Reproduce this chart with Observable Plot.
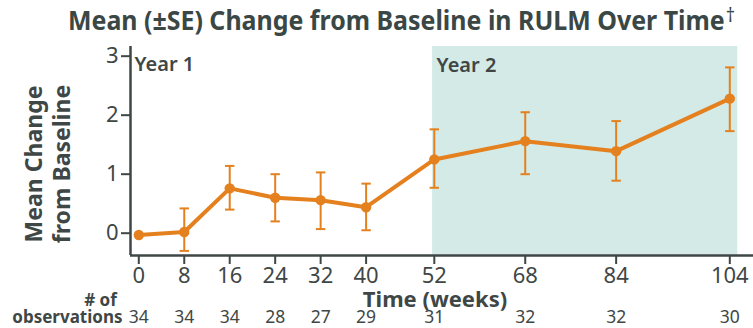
<!DOCTYPE html>
<html>
<head>
<meta charset="utf-8">
<script src="https://cdn.jsdelivr.net/npm/d3@7"></script>
<script src="https://cdn.jsdelivr.net/npm/@observablehq/plot@0.6"></script>
<style>
  html, body { margin: 0; padding: 0; background: #ffffff; }
  #wrap { width: 753px; height: 328px; position: relative; overflow: hidden; font-family: "Noto Sans", sans-serif; }
  #title { height: 44px; box-sizing: border-box; padding-top: 7px; padding-left: 68px; font-size: 26px; line-height: 1; font-weight: 700; color: #3b4745; white-space: nowrap; }
  #tinner { display: inline-block; transform-origin: 0 0; }
  #title sup { font-size: 19px; font-weight: 400; vertical-align: 0; position: relative; top: -8px; margin-left: 1px; }
</style>
</head>
<body>
<div id="wrap">
  <div id="title"><span id="tinner"><span id="ttext">Mean (±SE) Change from Baseline in RULM Over Time</span><sup>†</sup></span></div>
  <div id="chart"></div>
</div>
<script>
// ---- data ----
const weeks  = [0, 8, 16, 24, 32, 40, 52, 68, 84, 104];
const means  = [-0.03, 0.02, 0.76, 0.60, 0.56, 0.44, 1.25, 1.56, 1.39, 2.28];
const upper  = [null, 0.42, 1.14, 1.00, 1.03, 0.84, 1.76, 2.05, 1.90, 2.81];
const lower  = [null, -0.30, 0.40, 0.20, 0.07, 0.05, 0.77, 1.00, 0.89, 1.73];
const counts = [34, 34, 34, 28, 27, 29, 31, 32, 32, 30];
const yTicks = [0, 1, 2, 3];
const yearTwoSpan = [{start: 51.7, end: 105.4}];
const xDomain = [-1.46, 108.17];
const yDomain = [-0.378, 3.164];

const orange = "#e4811e";
const shade = "#d4eae6";
const dark = "#3f4746";

// fit the title to the reference's width
const tinner = document.getElementById("tinner");
const targetTitleWidth = 667;
const tw = tinner.getBoundingClientRect().width;
if (tw > 0) tinner.style.transform = `scale(${targetTitleWidth / tw}, 1)`;

const data = weeks.map((w, i) => ({week: w, mean: means[i], upper: upper[i], lower: lower[i], n: counts[i]}));
const withSE = data.filter(d => d.upper != null);

const capSymbol = {
  draw(ctx, size) {
    const w = Math.sqrt(size / Math.PI);
    ctx.moveTo(-w, 0);
    ctx.lineTo(w, 0);
  }
};

const chart = Plot.plot({
  width: 753,
  height: 284,
  marginTop: 2,
  marginBottom: 73,
  marginLeft: 130,
  marginRight: 0,
  style: {fontFamily: "Noto Sans, sans-serif", color: dark, background: "transparent", overflow: "visible"},
  x: {domain: xDomain},
  y: {domain: yDomain},
  marks: [
    Plot.rect(yearTwoSpan, {x1: "start", x2: "end", y1: () => yDomain[0], y2: () => yDomain[1], fill: shade}),
    Plot.axisY({ticks: yTicks, tickFormat: d3.format("d"), tickSize: 9, tickPadding: 3, fontSize: 22, stroke: dark, strokeWidth: 2, fill: dark, label: null}),
    Plot.axisX({ticks: weeks, tickFormat: d3.format("d"), tickSize: 9, tickPadding: 3, fontSize: 22, stroke: dark, strokeWidth: 2, fill: dark, label: null}),
    Plot.ruleY([yDomain[0]], {stroke: dark, strokeWidth: 2.5}),
    Plot.ruleX([xDomain[0]], {stroke: dark, strokeWidth: 2.5}),
    Plot.ruleX(withSE, {x: "week", y1: "lower", y2: "upper", stroke: orange, strokeWidth: 2}),
    Plot.dot(withSE, {x: "week", y: "upper", symbol: capSymbol, r: 4.7, stroke: orange, strokeWidth: 2, fill: "none"}),
    Plot.dot(withSE, {x: "week", y: "lower", symbol: capSymbol, r: 4.7, stroke: orange, strokeWidth: 2, fill: "none"}),
    Plot.line(data, {x: "week", y: "mean", stroke: orange, strokeWidth: 4}),
    Plot.dot(data, {x: "week", y: "mean", r: 5.2, fill: orange, stroke: "none"}),
    Plot.text(["Year 1"], {frameAnchor: "top-left", textAnchor: "start", lineAnchor: "top", dx: 4, dy: 10, fontSize: 20, fontWeight: 600, fill: dark}),
    Plot.text(yearTwoSpan, {x: "start", frameAnchor: "top", textAnchor: "start", lineAnchor: "top", text: () => "Year 2", dx: 4, dy: 11, fontSize: 20, fontWeight: 600, fill: dark}),
    Plot.text(data, {x: "week", text: "n", frameAnchor: "bottom", lineAnchor: "middle", dy: 62, fontSize: 17.5, fill: dark}),
    Plot.text(["observations"], {frameAnchor: "bottom-left", textAnchor: "end", lineAnchor: "middle", dx: -8, dy: 62, fontSize: 17, fontWeight: 700, fill: dark}),
    Plot.text(["# of"], {frameAnchor: "bottom-left", textAnchor: "middle", lineAnchor: "middle", dx: -30, dy: 45, fontSize: 17, fontWeight: 700, fill: dark}),
    Plot.text(["Time (weeks)"], {frameAnchor: "bottom", textAnchor: "middle", lineAnchor: "middle", dx: -7, dy: 44, fontSize: 22, fontWeight: 700, fill: dark}),
    Plot.text(["Mean Change"], {frameAnchor: "left", rotate: -90, textAnchor: "middle", lineAnchor: "middle", dx: -96, dy: 13, fontSize: 23, fontWeight: 700, fill: dark}),
    Plot.text(["from Baseline"], {frameAnchor: "left", rotate: -90, textAnchor: "middle", lineAnchor: "middle", dx: -68, dy: 13, fontSize: 23, fontWeight: 700, fill: dark})
  ]
});
document.getElementById("chart").appendChild(chart);
</script>
</body>
</html>
